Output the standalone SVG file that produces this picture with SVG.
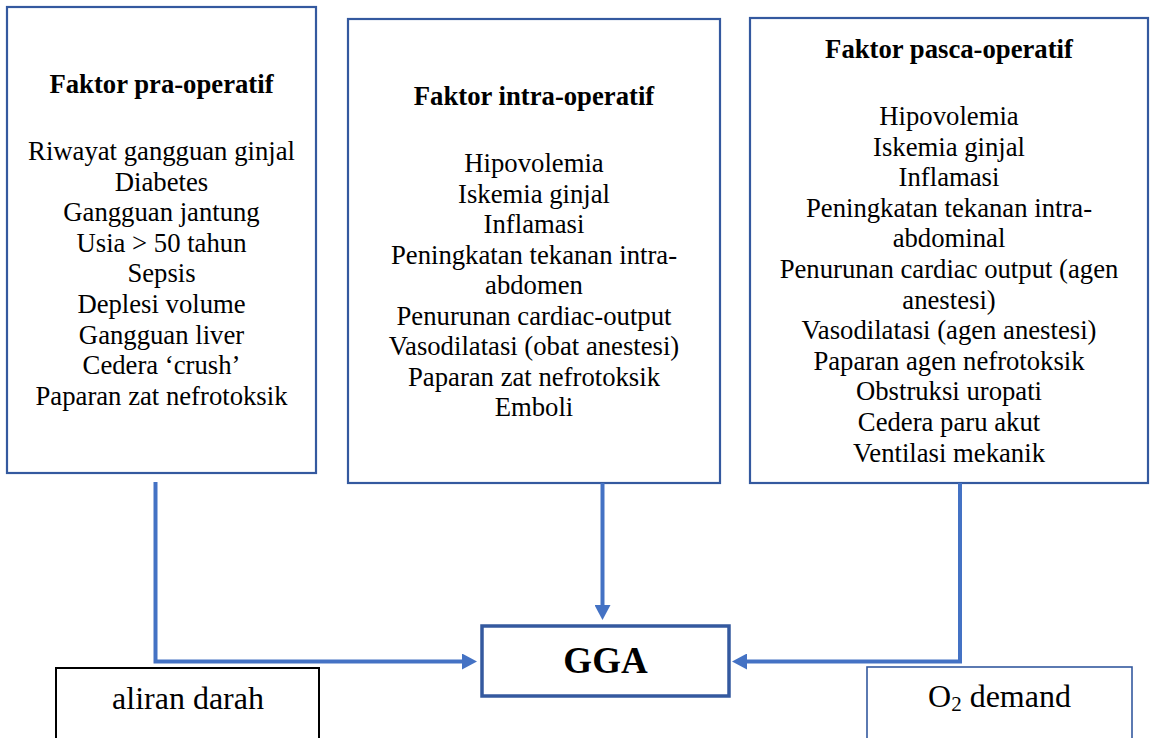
<svg xmlns="http://www.w3.org/2000/svg" width="1150" height="738" viewBox="0 0 1150 738">
  <style>
    .box { fill: #ffffff; stroke: #34599f; stroke-width: 2.2; }
    .gga { fill: #ffffff; stroke: #34599f; stroke-width: 3.5; }
    .lbl { fill: #ffffff; stroke: #000000; stroke-width: 2; }
    .lbl2 { fill: #ffffff; stroke: #34599f; stroke-width: 1.6; }
    text { font-family: 'Liberation Serif', 'DejaVu Serif', serif; font-size: 26.7px; fill: #000; text-anchor: middle; }
    .b { font-weight: bold; }
    .conn { fill: none; stroke: #4472c4; stroke-width: 4; }
  </style>
  <defs>
    <marker id="arr" markerUnits="userSpaceOnUse" viewBox="0 0 15 16" markerWidth="15" markerHeight="16" refX="0" refY="8" orient="auto">
      <path d="M0,0 L15,8 L0,16 z" fill="#4472c4"/>
    </marker>
  </defs>

  <g id="pra" font-family="Liberation Serif, serif">
    <rect class="box" x="7" y="7" width="309" height="466"/>
    <text class="b" x="161.5" y="93">Faktor pra-operatif</text>
    <text x="161.5" y="160">Riwayat gangguan ginjal</text>
    <text x="161.5" y="190.6">Diabetes</text>
    <text x="161.5" y="221.2">Gangguan jantung</text>
    <text x="161.5" y="251.8">Usia &gt; 50 tahun</text>
    <text x="161.5" y="282.4">Sepsis</text>
    <text x="161.5" y="313">Deplesi volume</text>
    <text x="161.5" y="343.6">Gangguan liver</text>
    <text x="161.5" y="374.2">Cedera ‘crush’</text>
    <text x="161.5" y="404.8">Paparan zat nefrotoksik</text>
  </g>

  <g id="intra">
    <rect class="box" x="348" y="19" width="372" height="464"/>
    <text class="b" x="534" y="105">Faktor intra-operatif</text>
    <text x="534" y="172">Hipovolemia</text>
    <text x="534" y="202.5">Iskemia ginjal</text>
    <text x="534" y="233">Inflamasi</text>
    <text x="534" y="263.5">Peningkatan tekanan intra-</text>
    <text x="534" y="294">abdomen</text>
    <text x="534" y="324.5">Penurunan cardiac-output</text>
    <text x="534" y="355">Vasodilatasi (obat anestesi)</text>
    <text x="534" y="385.5">Paparan zat nefrotoksik</text>
    <text x="534" y="416">Emboli</text>
  </g>

  <g id="pasca">
    <rect class="box" x="750" y="18" width="398" height="465"/>
    <text class="b" x="949" y="58">Faktor pasca-operatif</text>
    <text x="949" y="125">Hipovolemia</text>
    <text x="949" y="155.6">Iskemia ginjal</text>
    <text x="949" y="186.2">Inflamasi</text>
    <text x="949" y="216.8">Peningkatan tekanan intra-</text>
    <text x="949" y="247.4">abdominal</text>
    <text x="949" y="278">Penurunan cardiac output (agen</text>
    <text x="949" y="308.6">anestesi)</text>
    <text x="949" y="339.2">Vasodilatasi (agen anestesi)</text>
    <text x="949" y="369.8">Paparan agen nefrotoksik</text>
    <text x="949" y="400.4">Obstruksi uropati</text>
    <text x="949" y="431">Cedera paru akut</text>
    <text x="949" y="461.6">Ventilasi mekanik</text>
  </g>

  <g id="gga">
    <rect class="gga" x="482" y="626" width="247" height="70"/>
    <text class="b" x="605.5" y="673" style="font-size:37px">GGA</text>
  </g>

  <g id="aliran">
    <rect class="lbl" x="56" y="668" width="263" height="80"/>
    <text x="188" y="709" style="font-size:32px">aliran darah</text>
  </g>

  <g id="o2">
    <rect class="lbl2" x="867" y="667" width="265" height="80"/>
    <text x="999.5" y="707" style="font-size:32px">O<tspan style="font-size:21px" dy="4">2</tspan><tspan dy="-4"> demand</tspan></text>
  </g>

  <g id="connectors">
    <path class="conn" d="M155.5,482 V661.5 H462" marker-end="url(#arr)"/>
    <path class="conn" d="M602.5,483 V605" marker-end="url(#arr)"/>
    <path class="conn" d="M960,483 V661.5 H747" marker-end="url(#arr)"/>
  </g>
</svg>
